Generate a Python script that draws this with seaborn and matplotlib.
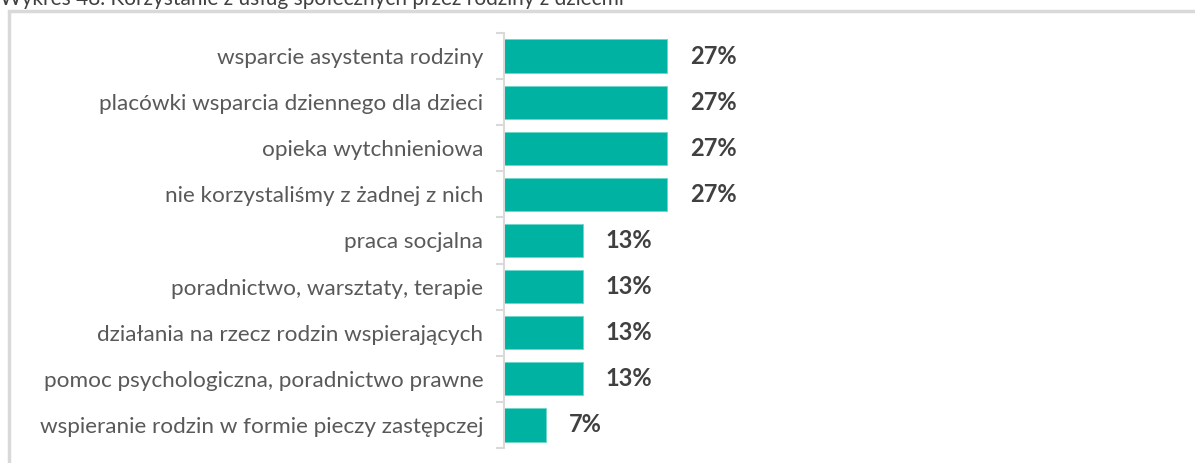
import matplotlib
matplotlib.use("Agg")
import matplotlib.pyplot as plt
from matplotlib.patches import Rectangle
import numpy as np
import pandas as pd
import seaborn as sns

# Data
categories = [
    "wsparcie asystenta rodziny",
    "placówki wsparcia dziennego dla dzieci",
    "opieka wytchnieniowa",
    "nie korzystaliśmy z żadnej z nich",
    "praca socjalna",
    "poradnictwo, warsztaty, terapie",
    "działania na rzecz rodzin wspierających",
    "pomoc psychologiczna, poradnictwo prawne",
    "wspieranie rodzin w formie pieczy zastępczej",
]
values = [27, 27, 27, 27, 13, 13, 13, 13, 7]
title = "Wykres 48. Korzystanie z usług społecznych przez rodziny z dziećmi"

df = pd.DataFrame({"kategoria": categories, "procent": values})

sns.set_theme(style="white")
plt.rcParams["font.family"] = ["Lato", "DejaVu Sans"]

W, H = 1195, 463
fig = plt.figure(figsize=(W / 100, H / 100), dpi=100)
fig.patch.set_facecolor("white")

# Axes placed in pixel terms
left, right, top, bottom = 504, 1108, 33, 448
ax = fig.add_axes([left / W, 1 - bottom / H, (right - left) / W, (bottom - top) / H])

teal = "#00B2A2"
sns.barplot(data=df, x="procent", y="kategoria", orient="h", color=teal,
            width=0.72, edgecolor="#6fd6ca", linewidth=0.6, ax=ax, saturation=1)

ax.set_xlim(0, 100)
ax.set_ylim(len(categories) - 0.5, -0.5)
ax.set_xlabel("")
ax.set_ylabel("")
ax.set_xticks([])

for s in ["top", "right", "bottom"]:
    ax.spines[s].set_visible(False)
ax.spines["left"].set_color("#d9d9d9")
ax.spines["left"].set_linewidth(1.5)

ax.set_yticks(range(len(categories)))
ax.set_yticklabels(categories)
ax.tick_params(axis="y", which="major", length=0, pad=15, labelsize=16.2,
               labelcolor="#595959")
ax.set_yticks(np.arange(-0.5, len(categories), 1.0), minor=True)
ax.tick_params(axis="y", which="minor", left=True, length=6, width=1.5,
               color="#d9d9d9")

for i, v in enumerate(values):
    ax.text(v + 3.8, i, f"{v}%", va="center", ha="left", fontsize=17,
            fontweight="bold", color="#404040")

# Surrounding frame
fig.patches.append(Rectangle((8.5 / W, -0.1), 1.2, 1 - 11 / H + 0.1,
                             transform=fig.transFigure, fill=False,
                             edgecolor="#d9d9d9", linewidth=2.5))

fig.text(0.0, 1 - 5 / H, title, ha="left", va="baseline", fontsize=15,
         color="#404040")

fig.savefig("out.png", dpi=100, facecolor="white")
